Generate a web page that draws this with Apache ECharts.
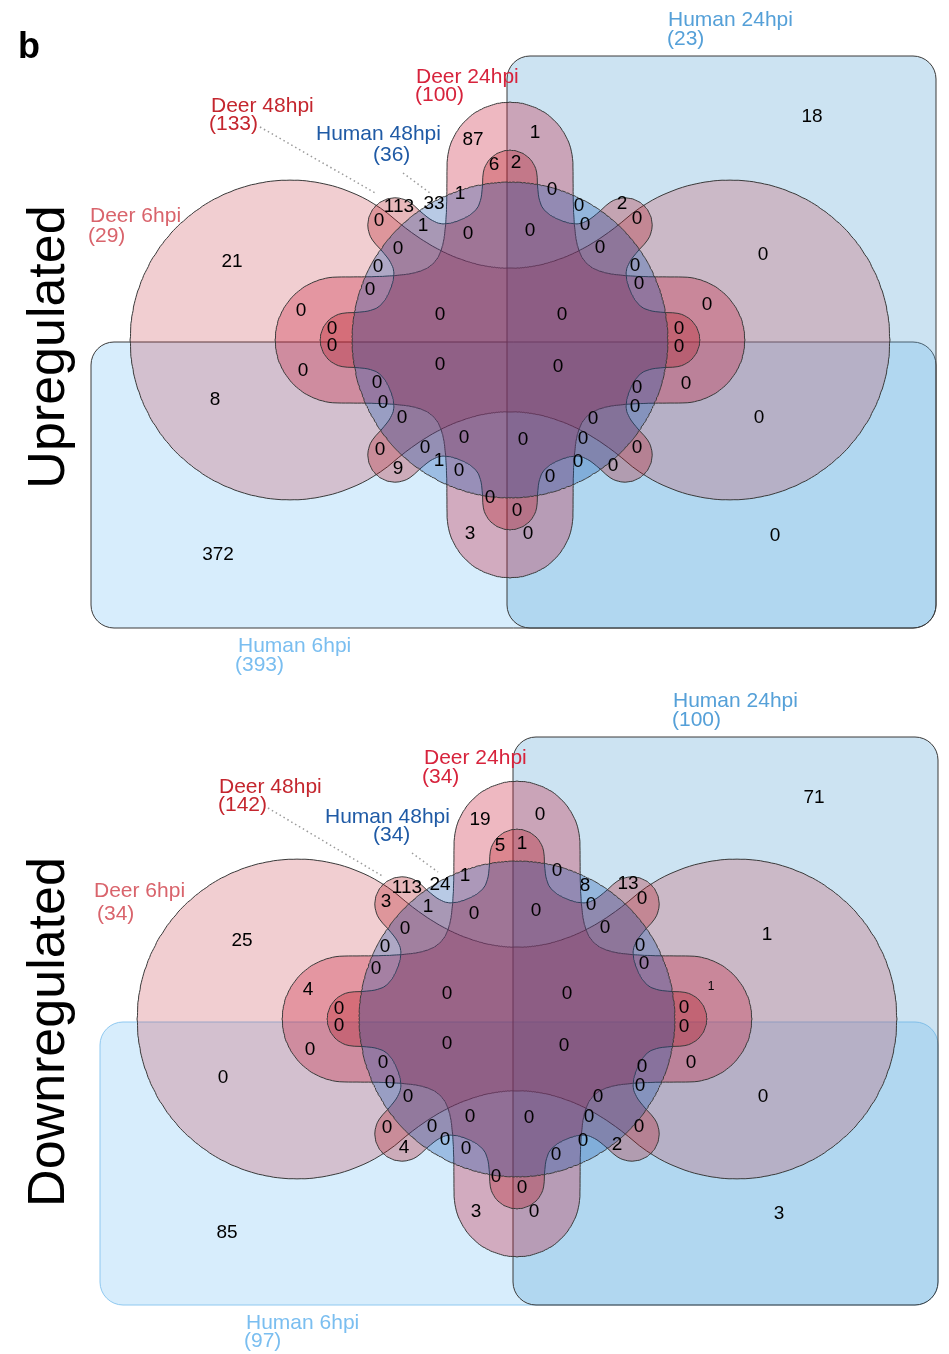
<!DOCTYPE html>
<html>
<head>
<meta charset="utf-8">
<title>Venn</title>
<script src="https://cdn.jsdelivr.net/npm/echarts@6.0.0/dist/echarts.min.js"></script>
<style>
  html, body { margin: 0; padding: 0; background: #fff; }
  #chart { width: 949px; height: 1354px; }
</style>
</head>
<body>
<div id="chart"></div>
<script>
// sets
const setNames = ['Deer 6hpi', 'Deer 24hpi', 'Deer 48hpi', 'Human 6hpi', 'Human 24hpi', 'Human 48hpi'];
const upTotals = [29, 100, 133, 393, 23, 36];
const downTotals = [34, 34, 142, 97, 100, 34];

// region counts (same order as the label layout below)
const upCounts = [18, 21, 87, 1, 6, 2, 1, 113, 33, 0,
  1, 0, 0, 0, 0, 2, 0, 0, 0, 0,
  0, 0, 0, 0, 0, 0, 0, 0, 0, 0,
  0, 0, 0, 0, 0, 0, 0, 8, 0, 0,
  0, 0, 0, 0, 0, 0, 9, 0, 1, 0,
  0, 0, 0, 0, 0, 0, 0, 0, 0, 3,
  0, 372, 0];
const downCounts = [71, 25, 19, 0, 5, 1, 1, 113, 24, 3,
  1, 0, 0, 0, 8, 13, 0, 0, 0, 0,
  0, 0, 0, 0, 1, 4, 0, 0, 1, 0,
  0, 0, 0, 0, 0, 0, 0, 0, 0, 0,
  0, 0, 0, 0, 0, 0, 4, 0, 0, 0,
  0, 0, 0, 0, 2, 0, 0, 0, 0, 3,
  0, 85, 3];

// ---- layout, page pixels ----
const upCountPos = [[812,117],[232,262],[473,140],[535,133],[494,165],[516,163],[460,194],[399,207],[434,204],[379,221],
  [423,226],[468,234],[530,231],[552,190],[579,206],[622,204],[637,219],[585,225],[600,248],[398,249],
  [378,267],[370,290],[635,266],[639,284],[763,255],[707,305],[301,311],[440,315],[562,315],[332,329],
  [332,346],[679,329],[679,347],[303,371],[440,365],[558,367],[686,384],[215,400],[377,383],[383,403],
  [402,418],[637,388],[635,407],[593,419],[759,418],[380,450],[398,469],[425,448],[439,461],[459,471],
  [464,438],[523,440],[583,439],[578,462],[613,466],[637,448],[550,477],[490,498],[517,511],[470,534],
  [528,534],[218,555],[775,536]];
const downCountPos = [[814,798],[242,941],[480,820],[540,815],[500,846],[522,844],[465,876],[407,888],[440,885],[386,902],
  [428,907],[474,914],[536,911],[557,871],[585,886],[628,884],[642,899],[591,905],[605,928],[405,929],
  [385,947],[376,969],[640,946],[644,964],[767,935],[308,990],[447,994],[567,994],[711,987],[339,1009],
  [339,1026],[684,1008],[684,1027],[310,1050],[447,1044],[564,1046],[691,1063],[223,1078],[383,1063],[390,1083],
  [408,1097],[642,1067],[640,1086],[598,1097],[763,1097],[387,1128],[404,1148],[432,1127],[445,1140],[466,1149],
  [470,1117],[529,1118],[589,1117],[583,1141],[617,1145],[639,1127],[556,1155],[496,1177],[522,1188],[476,1212],
  [534,1212],[227,1233],[779,1214]];
// [nameX, nameY, totalX, totalY] per set
const upNamePos = [[90,216,88,236],[416,77,415,95],[211,106,209,124],[238,646,235,665],[668,20,667,39],[316,134,373,155]];
const downNamePos = [[94,891,97,914],[424,758,422,777],[219,787,218,805],[246,1323,244,1341],[673,701,672,720],[325,817,373,835]];
const upLeaders = [[260,127,377,194],[403,173,430,193]];
const downLeaders = [[268,808,384,877],[412,853,438,872]];

const labelColors = ['#d9646c', '#d7233c', '#c4262e', '#7abef0', '#55a0d8', '#1f5aa5'];
const fills = ['rgba(200,60,70,0.25)', 'rgba(200,20,50,0.3)', 'rgba(180,20,30,0.3)',
  'rgba(140,202,247,0.35)', 'rgba(100,170,215,0.33)', 'rgba(20,80,170,0.3)'];
const drawOrder = [3, 4, 0, 1, 2, 5];
const font = 'Liberation Sans, Arial, sans-serif';

const panels = [
  { center: [510, 340], top: 0, height: 680, counts: upCounts, totals: upTotals,
    countPos: upCountPos, namePos: upNamePos, leaders: upLeaders,
    rects: { 3: [91, 342, 936, 628], 4: [507, 56, 936, 628] }, h6Stroke: '#3a3a3a',
    title: 'Upregulated', titleY: 347 },
  { center: [517, 1019], top: 680, height: 674, counts: downCounts, totals: downTotals,
    countPos: downCountPos, namePos: downNamePos, leaders: downLeaders,
    rects: { 3: [100, 1022, 938, 1305], 4: [513, 737, 938, 1305] }, h6Stroke: '#8ec8f0',
    title: 'Downregulated', titleY: 1032 }
];

// ---- shape outlines (relative to the panel centre) ----
function outline(inside, rMax) {
  const pts = [];
  for (let i = 0; i < 720; i++) {
    const a = i * Math.PI / 360, c = Math.cos(a), s = Math.sin(a);
    let r = rMax;
    while (r > 0 && !inside(r * c, r * s)) r -= 0.5;
    pts.push([r * c, r * s]);
  }
  return pts;
}
function smin(ds, k) {
  let s = 0;
  ds.forEach(d => { s += Math.exp(-d / k); });
  return -k * Math.log(s);
}
function capsule(x, y, len, w) { // along y, from -len to len
  const yy = Math.max(Math.abs(y) - len, 0);
  return Math.hypot(x, yy) - w;
}
function ray(x, y, a, len, w) { // along direction a, from 0 to len
  const c = Math.cos(a), s = Math.sin(a);
  const t = Math.min(Math.max(x * c + y * s, 0), len);
  return Math.hypot(x - t * c, y - t * s) - w;
}
function inDeer6(x, y) {
  const R = 160, d = 220;
  if ((x + d) * (x + d) + y * y <= R * R) return true;
  if ((x - d) * (x - d) + y * y <= R * R) return true;
  return Math.abs(x) <= 119 && Math.abs(y) <= 72 + 0.00367 * x * x;
}
function inDeer24(x, y) {
  return smin([capsule(x, y, 175, 63), capsule(y, x, 172, 63)], 20) <= 0;
}
function inDeer48(x, y) {
  const ds = [Math.hypot(x, y) - 128];
  for (let j = 0; j < 8; j++) ds.push(ray(x, y, j * Math.PI / 4, 163, 27));
  return smin(ds, 10) <= 0;
}
const polys = {
  0: outline(inDeer6, 400),
  1: outline(inDeer24, 260),
  2: outline(inDeer48, 230),
  5: outline((x, y) => x * x + y * y <= 158 * 158, 200)
};

const chart = echarts.init(document.getElementById('chart'));
const grid = [], xAxis = [], yAxis = [], series = [];

panels.forEach((p, pi) => {
  grid.push({ left: 0, top: p.top, width: 949, height: p.height });
  xAxis.push({ type: 'value', gridIndex: pi, min: 0, max: 949, show: false });
  yAxis.push({ type: 'value', gridIndex: pi, min: p.top, max: p.top + p.height, inverse: true, show: false });

  // set shapes
  series.push({
    type: 'custom', xAxisIndex: pi, yAxisIndex: pi, silent: true, clip: false,
    data: drawOrder.map(k => [p.center[0], p.center[1], k]),
    renderItem: (params, api) => {
      const k = api.value(2);
      const style = { fill: fills[k], stroke: k === 3 ? p.h6Stroke : '#3a3a3a', lineWidth: 1 };
      if (p.rects[k]) {
        const r = p.rects[k];
        const a = api.coord([r[0], r[1]]), b = api.coord([r[2], r[3]]);
        return { type: 'rect', shape: { x: a[0], y: a[1], width: b[0] - a[0], height: b[1] - a[1], r: 23 }, style };
      }
      const pts = polys[k].map(q => api.coord([p.center[0] + q[0], p.center[1] + q[1]]));
      return { type: 'polygon', shape: { points: pts }, style };
    }
  });

  // dotted leaders
  series.push({
    type: 'custom', xAxisIndex: pi, yAxisIndex: pi, silent: true, clip: false,
    data: p.leaders,
    renderItem: (params, api) => {
      const a = api.coord([api.value(0), api.value(1)]), b = api.coord([api.value(2), api.value(3)]);
      return { type: 'line', shape: { x1: a[0], y1: a[1], x2: b[0], y2: b[1] },
        style: { stroke: '#9a9a9a', lineWidth: 1.5, lineDash: [1.5, 3] } };
    }
  });

  // region counts
  series.push({
    type: 'custom', xAxisIndex: pi, yAxisIndex: pi, silent: true, clip: false,
    data: p.counts.map((v, i) => [p.countPos[i][0], p.countPos[i][1], v, i]),
    renderItem: (params, api) => {
      const c = api.coord([api.value(0), api.value(1)]);
      const small = pi === 1 && api.value(3) === 28;
      return { type: 'text', x: c[0], y: c[1],
        style: { text: String(api.value(2)), fill: '#000', fontSize: small ? 12 : 19, fontFamily: font,
          align: 'center', verticalAlign: 'middle' } };
    }
  });

  // set names and totals
  series.push({
    type: 'custom', xAxisIndex: pi, yAxisIndex: pi, silent: true, clip: false,
    data: setNames.map((n, i) => [p.namePos[i][0], p.namePos[i][1], p.namePos[i][2], p.namePos[i][3], i]),
    renderItem: (params, api) => {
      const i = api.value(4);
      const a = api.coord([api.value(0), api.value(1)]), b = api.coord([api.value(2), api.value(3)]);
      const st = { fill: labelColors[i], fontSize: 21, fontFamily: font, align: 'left', verticalAlign: 'middle' };
      return { type: 'group', children: [
        { type: 'text', x: a[0], y: a[1], style: Object.assign({ text: setNames[i] }, st) },
        { type: 'text', x: b[0], y: b[1], style: Object.assign({ text: '(' + p.totals[i] + ')' }, st) }
      ] };
    }
  });
});

chart.setOption({
  animation: false,
  backgroundColor: '#fff',
  grid, xAxis, yAxis, series,
  graphic: [
    { type: 'text', x: 18, y: 48, style: { text: 'b', fontSize: 36, fontWeight: 'bold', fontFamily: font, fill: '#000', align: 'left', verticalAlign: 'middle' } },
    { type: 'text', x: 50, y: panels[0].titleY, rotation: Math.PI / 2,
      style: { text: panels[0].title, fontSize: 52, fontFamily: font, fill: '#000', align: 'center', verticalAlign: 'middle' } },
    { type: 'text', x: 50, y: panels[1].titleY, rotation: Math.PI / 2,
      style: { text: panels[1].title, fontSize: 52, fontFamily: font, fill: '#000', align: 'center', verticalAlign: 'middle' } }
  ]
});
</script>
</body>
</html>
